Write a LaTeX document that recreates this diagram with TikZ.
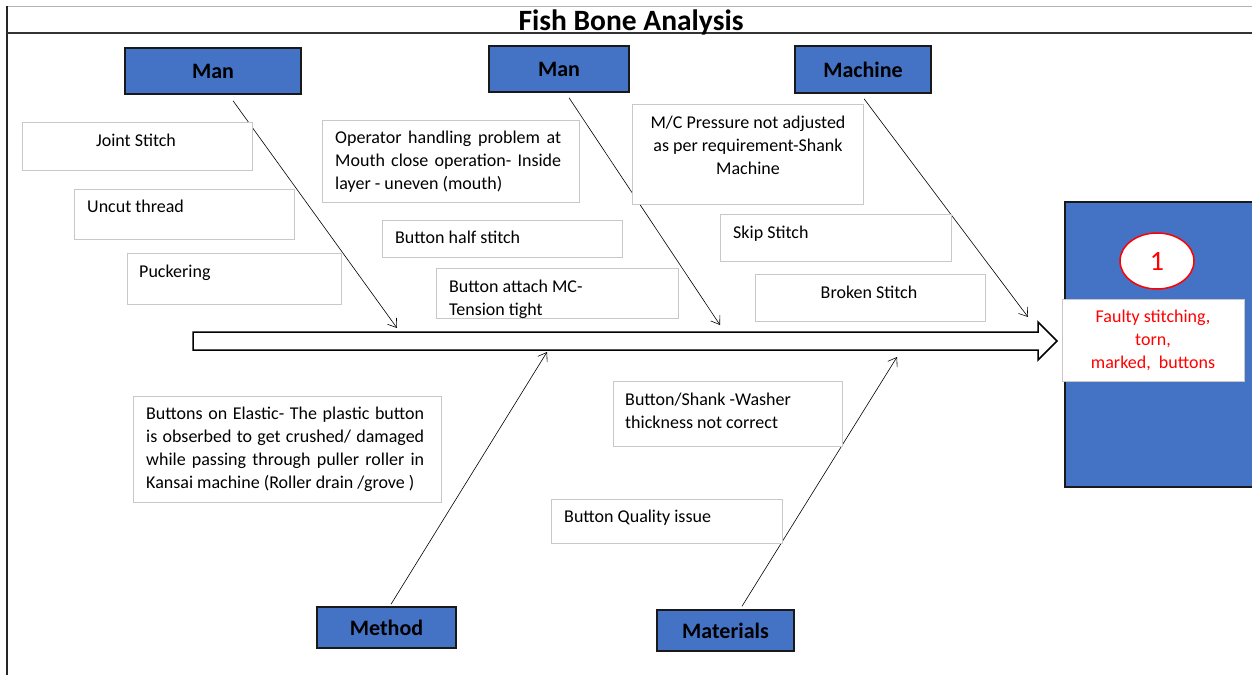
\documentclass[tikz,border=0pt]{standalone}
\usepackage{fontspec}
\setmainfont{Carlito}
\usetikzlibrary{arrows.meta,calc,shapes.geometric}
\definecolor{hdrblue}{HTML}{4472C4}
\definecolor{boxgray}{HTML}{C8C8C8}
\newcommand\bodyfs{\fontsize{18}{23}\selectfont}
\newcommand\hdrfs{\fontsize{22}{26}\selectfont\bfseries}
\newcommand\titlefs{\fontsize{29.5}{32}\selectfont\bfseries}
\begin{document}
\begin{tikzpicture}[x=1pt,y=-1pt,
  hdr/.style={draw=black!90, line width=1.5pt, fill=hdrblue, inner sep=0pt, font=\hdrfs, text=black},
  cause/.style={draw=boxgray, line width=1.2pt, fill=white, inner sep=0pt, anchor=north west},
  txt/.style={inner sep=0pt, font=\bodyfs, anchor=north west, align=left},
  jtxt/.style={inner sep=0pt, font=\bodyfs, anchor=north west, align=justify},
  ctxt/.style={inner sep=0pt, font=\bodyfs, anchor=north, align=center},
  bone/.style={line width=0.6pt, -{Straight Barb[length=8pt,width=11pt]}},
]
\useasboundingbox (0,0) rectangle (1252,675);
% frame
\draw[gray!60, line width=1pt] (7,6) -- (1252,6);
\draw[black!85, line width=1.2pt] (7,6) -- (7,675);
\draw[black!80, line width=1.5pt] (7,33) -- (1252,33);
\node[font=\titlefs, anchor=base, inner sep=0pt] (title) at (631,30.5) {Fish Bone Analysis};

% category headers
\node[hdr, minimum width=176, minimum height=46] (man1) at (213,71) {Man};
\node[hdr, minimum width=140, minimum height=46] (man2) at (559,69) {Man};
\node[hdr, minimum width=136, minimum height=47] (mach) at (863,69.5) {Machine};
\node[hdr, minimum width=139, minimum height=41] (meth) at (386.5,627.5) {Method};
\node[hdr, minimum width=137, minimum height=41] (mat) at (725.5,630.5) {Materials};

% spine
\coordinate (t1) at (397,328);
\coordinate (t2) at (720,325);
\coordinate (t3) at (1028,317);
\coordinate (t4) at (547,352);
\coordinate (t5) at (897,357);
\draw[line width=1.5pt, fill=white, line join=miter] (193,332) -- (1038,332) -- (1038,322) -- (1057,341) -- (1038,360) -- (1038,350) -- (193,350) -- cycle;

% bones
\draw[bone] ($(man1.south)+(20,6)$) -- (t1);
\draw[bone] ($(man2.south)+(10,5)$) -- (t2);
\draw[bone] ($(mach.south)+(1,5)$) -- (t3);
\draw[bone] ($(meth.north)+(4.5,-2)$) -- (t4);
\draw[bone] ($(mat.north)+(16.5,-3)$) -- (t5);

% cause boxes
\node[cause, minimum width=230, minimum height=48] (b1) at (22,122) {};
\node[ctxt] (x1) at (136,130) {\strut Joint Stitch};
\node[cause, minimum width=220, minimum height=50] (b2) at (74,189) {};
\node[txt] (x2) at (87,196) {\strut Uncut thread};
\node[cause, minimum width=214, minimum height=51] (b3) at (127,253) {};
\node[txt] (x3) at (139,261) {\strut Puckering};
\node[cause, minimum width=257, minimum height=82] (b4) at (322,120) {};
\node[jtxt, text width=226] (x4) at (335,127) {\strut Operator handling problem at\linebreak Mouth close operation- Inside\linebreak layer - uneven (mouth)};
\node[cause, minimum width=240, minimum height=37] (b5) at (382,220) {};
\node[txt] (x5) at (395,227) {\strut Button half stitch};
\node[cause, minimum width=242, minimum height=50] (b6) at (436,268) {};
\node[txt] (x6) at (449,276) {\strut Button attach MC-\\Tension tight};
\node[cause, minimum width=231, minimum height=100] (b7) at (632,104) {};
\node[ctxt] (x7) at (748,112) {\strut M/C Pressure not adjusted\\as per requirement-Shank\\Machine};
\node[cause, minimum width=231, minimum height=47] (b8) at (720,214) {};
\node[txt] (x8) at (733,222) {\strut Skip Stitch};
\node[cause, minimum width=230, minimum height=47] (b9) at (755,274) {};
\node[ctxt] (x9) at (869,282) {\strut Broken Stitch};
\node[cause, minimum width=308, minimum height=106] (b10) at (133,396) {};
\node[jtxt, text width=278] (x10) at (146,403) {\strut Buttons on Elastic- The plastic button\linebreak is obserbed to get crushed/ damaged\linebreak while passing through puller roller in\linebreak Kansai machine (Roller drain /grove )};
\node[cause, minimum width=229, minimum height=65] (b11) at (613,381) {};
\node[txt] (x11) at (625,389) {\strut Button/Shank -Washer\\thickness not correct};
\node[cause, minimum width=231, minimum height=44] (b12) at (551,499) {};
\node[txt] (x12) at (564,506) {\strut Button Quality issue};

% effect
\node[draw=black!90, line width=1.5pt, fill=hdrblue, minimum width=196, minimum height=285, anchor=north west, inner sep=0pt] (effect) at (1064,201) {};
\node[ellipse, draw=red, line width=1.5pt, fill=white, minimum width=74, minimum height=56, inner sep=0pt, text=red, font=\fontsize{28}{32}\selectfont] (num) at (1157,261) {1};
\node[cause, minimum width=182, minimum height=82] (res) at (1062,299) {};
\node[ctxt, text=red] (xr) at (1153,306) {\strut Faulty stitching,\\torn,\\marked,\ \ buttons};
\end{tikzpicture}
\end{document}
